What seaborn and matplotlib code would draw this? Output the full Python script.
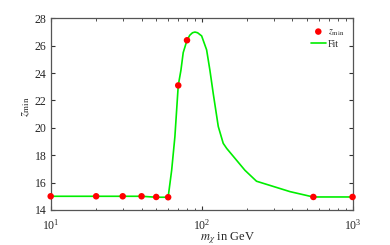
import matplotlib
matplotlib.use("Agg")
import matplotlib.pyplot as plt
import seaborn as sns
import numpy as np
import pandas as pd
from matplotlib.ticker import LogLocator

# Data points (z_min)
mass_points = [10, 20, 30, 40, 50, 60, 70, 80, 550, 1000]
zmin_points = [15.0, 15.0, 15.0, 15.0, 14.95, 14.93, 23.1, 26.4, 14.95, 14.95]

# Fit curve
fit_mass = [10, 20, 30, 40, 50, 60, 63.3, 66.5, 70, 72.9, 75.5, 80, 83.5,
            87, 90.3, 94, 100, 107.9, 113.5, 119.4, 128.9, 139, 146.5, 193.6,
            231, 385, 548, 1000]
fit_z = [15.0, 15.0, 15.0, 15.0, 14.93, 14.93, 16.9, 19.35, 23.1, 24.2, 25.5,
         26.4, 26.77, 26.95, 27.0, 26.95, 26.72, 25.7, 24.2, 22.5, 20.1, 18.87,
         18.5, 16.9, 16.1, 15.34, 14.95, 14.95]

sns.set_style("ticks")
plt.rcParams['font.family'] = ['Liberation Serif', 'DejaVu Serif']
plt.rcParams['mathtext.fontset'] = 'stix'

fig = plt.figure(figsize=(3.9, 2.45), dpi=100)
ax = fig.add_axes([0.130, 0.143, 0.774, 0.782])

df_fit = pd.DataFrame({"m": fit_mass, "z": fit_z})
df_pts = pd.DataFrame({"m": mass_points, "z": zmin_points})

sns.lineplot(data=df_fit, x="m", y="z", ax=ax, color="#00ee00", lw=1.2,
             label="Fit", zorder=2, sort=False)
sns.scatterplot(data=df_pts, x="m", y="z", ax=ax, color="#ff0000", s=22,
                edgecolor="none", label=r"$z_{\rm min}$", zorder=3,
                clip_on=False)

ax.set_xscale("log")
ax.set_xlim(10, 1000)
ax.set_ylim(14, 28)
ax.set_yticks([14, 16, 18, 20, 22, 24, 26, 28])
ax.xaxis.set_minor_locator(LogLocator(base=10, subs=np.arange(2, 10)))
ax.tick_params(which="both", direction="in", top=True, right=True,
               labelsize=8.5, color="#333333", labelcolor="#262626")
ax.tick_params(axis="y", pad=3)
ax.tick_params(axis="x", pad=5.5)
ax.tick_params(which="major", length=3)
ax.tick_params(which="minor", length=1.8)
for s in ax.spines.values():
    s.set_color("#555555")
    s.set_linewidth(0.9)

ax.set_xlabel(r"$m_\chi$ in GeV", fontsize=9)
ax.set_ylabel(r"$z_{\rm min}$", fontsize=9)
ax.xaxis.set_label_coords(0.587, -0.105)
ax.yaxis.set_label_coords(-0.062, 0.54)

handles, labels = ax.get_legend_handles_labels()
order = [labels.index(r"$z_{\rm min}$"), labels.index("Fit")]
leg = ax.legend([handles[i] for i in order], [labels[i] for i in order],
                loc="upper right", frameon=False, fontsize=7,
                handlelength=1.5, borderaxespad=0.5, labelspacing=0.2,
                handletextpad=0.2)

fig.savefig("out.png", dpi=100)
